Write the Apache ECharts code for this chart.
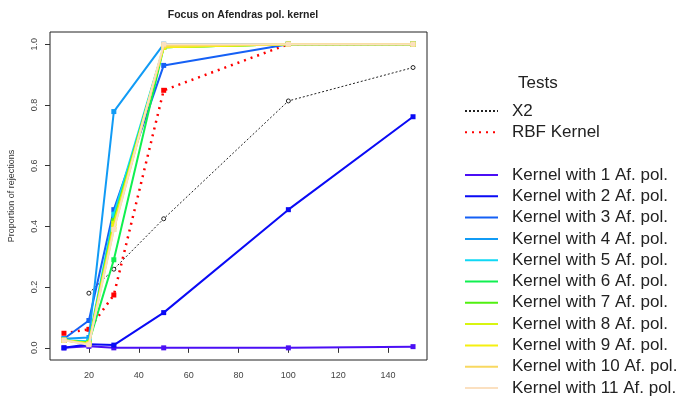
<!DOCTYPE html>
<html>
<head>
<meta charset="utf-8">
<script src="https://cdn.jsdelivr.net/npm/echarts@6/dist/echarts.min.js"></script>
<style>html,body{margin:0;padding:0;background:#fff;}#c{width:679px;height:397px;}</style>
</head>
<body>
<div id="c"></div>
<script>
const sampleSizes = [10, 20, 30, 50, 100, 150];
const xTicks = [20, 40, 60, 80, 100, 120, 140];
const yTicks = [0, 0.2, 0.4, 0.6, 0.8, 1.0];

const x2 = [null, 0.18, 0.259, 0.425, 0.813, 0.923];
const rbf = [0.048, 0.061, 0.174, 0.848, 1.0, 1.0];
const k1 = [0.0, 0.005, 0.0, 0.0, 0.0, 0.004];
const k2 = [0.0, 0.012, 0.009, 0.116, 0.455, 0.761];
const k3 = [0.03, 0.09, 0.455, 0.93, 1.0, 1.0];
const k4 = [0.03, 0.034, 0.778, 1.0, 1.0, 1.0];
const k5 = [0.025, 0.022, 0.44, 0.99, 1.0, 1.0];
const k6 = [0.025, 0.018, 0.29, 0.99, 1.0, 1.0];
const k7 = [0.025, 0.016, 0.419, 0.99, 1.0, 1.0];
const k8 = [0.025, 0.015, 0.41, 0.99, 1.0, 1.0];
const k9 = [0.025, 0.014, 0.40, 0.99, 1.0, 1.0];
const k10 = [0.025, 0.012, 0.39, 0.995, 1.0, 1.0];
const k11 = [0.025, 0.01, 0.39, 1.0, 1.0, 1.0];

const kernelNames = ["Kernel with 1 Af. pol.","Kernel with 2 Af. pol.","Kernel with 3 Af. pol.","Kernel with 4 Af. pol.","Kernel with 5 Af. pol.","Kernel with 6 Af. pol.","Kernel with 7 Af. pol.","Kernel with 8 Af. pol.","Kernel with 9 Af. pol.","Kernel with 10 Af. pol.","Kernel with 11 Af. pol."];
const kernelData = [k1,k2,k3,k4,k5,k6,k7,k8,k9,k10,k11];
const kernelColors = ["#4B0FF5","#0A0AF5","#1560F5","#119BF5","#10D8F5","#10F050","#50F010","#D8F510","#F5F010","#F8D860","#FBE0C0"];

function pts(arr){ return sampleSizes.map((x,i)=>[x, arr[i] === null ? '-' : arr[i]]); }

const series = [];
series.push({
  name: "X2", type: "line", data: pts(x2),
  lineStyle: {color: "#222", width: 1, type: [2,2]},
  itemStyle: {color: "#fff", borderColor: "#222", borderWidth: 1},
  symbol: "circle", symbolSize: 4, z: 2
});
series.push({
  name: "RBF Kernel", type: "line", data: pts(rbf),
  lineStyle: {color: "#FF0000", width: 2.5, type: [2,5]},
  itemStyle: {color: "#FF0000"},
  symbol: "rect", symbolSize: 5, z: 2
});
kernelData.forEach((d,i)=>{
  series.push({
    name: kernelNames[i], type: "line", data: pts(d),
    lineStyle: {color: kernelColors[i], width: 2},
    itemStyle: {color: kernelColors[i]},
    symbol: "rect", symbolSize: 5, z: 3 + i
  });
});

const legendText = {fontFamily: "Liberation Sans, Arial", fontSize: 17, color: "#222", padding: [0,0,0,9]};

const chart = echarts.init(document.getElementById('c'), null, {renderer: 'canvas'});
chart.setOption({
  animation: false,
  backgroundColor: "#fff",
  title: [
    {text: "Focus on Afendras pol. kernel", left: 238, top: 5, textAlign: "center",
     textStyle: {fontFamily: "Liberation Sans, Arial", fontSize: 10.5, fontWeight: "bold", color: "#222"}},
    {text: "Tests", left: 513, top: 70,
     textStyle: {fontFamily: "Liberation Sans, Arial", fontSize: 17, fontWeight: "normal", color: "#222"}}
  ],
  legend: [
    {data: ["X2","RBF Kernel"], orient: "vertical", left: 464, top: 102.5, height: 80, padding: 0, itemWidth: 33, itemHeight: 10, itemGap: 4.3,
     itemStyle: {opacity: 0}, textStyle: legendText},
    {data: kernelNames, orient: "vertical", left: 464, top: 166.5, height: 300, padding: 0, itemWidth: 33, itemHeight: 10, itemGap: 4.3,
     itemStyle: {opacity: 0}, textStyle: legendText}
  ],
  grid: {left: 50, top: 32, width: 377, height: 328, show: true, borderColor: "#222", borderWidth: 1,
         backgroundColor: "transparent", outerBoundsMode: "none", containLabel: false},
  xAxis: {
    type: "value", min: 4.4, max: 155.6,
    name: "Sample size", nameLocation: "middle", nameGap: 37,
    nameTextStyle: {fontFamily: "Liberation Sans, Arial", fontSize: 9.5, color: "#333"},
    axisLine: {show: false}, splitLine: {show: false},
    axisTick: {show: true, length: 5, customValues: xTicks, lineStyle: {color: "#333"}},
    axisLabel: {customValues: xTicks, fontFamily: "Liberation Sans, Arial", fontSize: 9, color: "#444", margin: 11}
  },
  yAxis: {
    type: "value", min: -0.04, max: 1.04,
    name: "Proportion of rejections", nameLocation: "middle", nameGap: 34,
    nameTextStyle: {fontFamily: "Liberation Sans, Arial", fontSize: 9, color: "#333"},
    axisLine: {show: false}, splitLine: {show: false},
    axisTick: {show: true, length: 5, customValues: yTicks, lineStyle: {color: "#333"}},
    axisLabel: {customValues: yTicks, rotate: 90, fontFamily: "Liberation Sans, Arial", fontSize: 9, color: "#444", margin: 11,
      formatter: v => v.toFixed(1)}
  },
  series: series
});
</script>
</body>
</html>
